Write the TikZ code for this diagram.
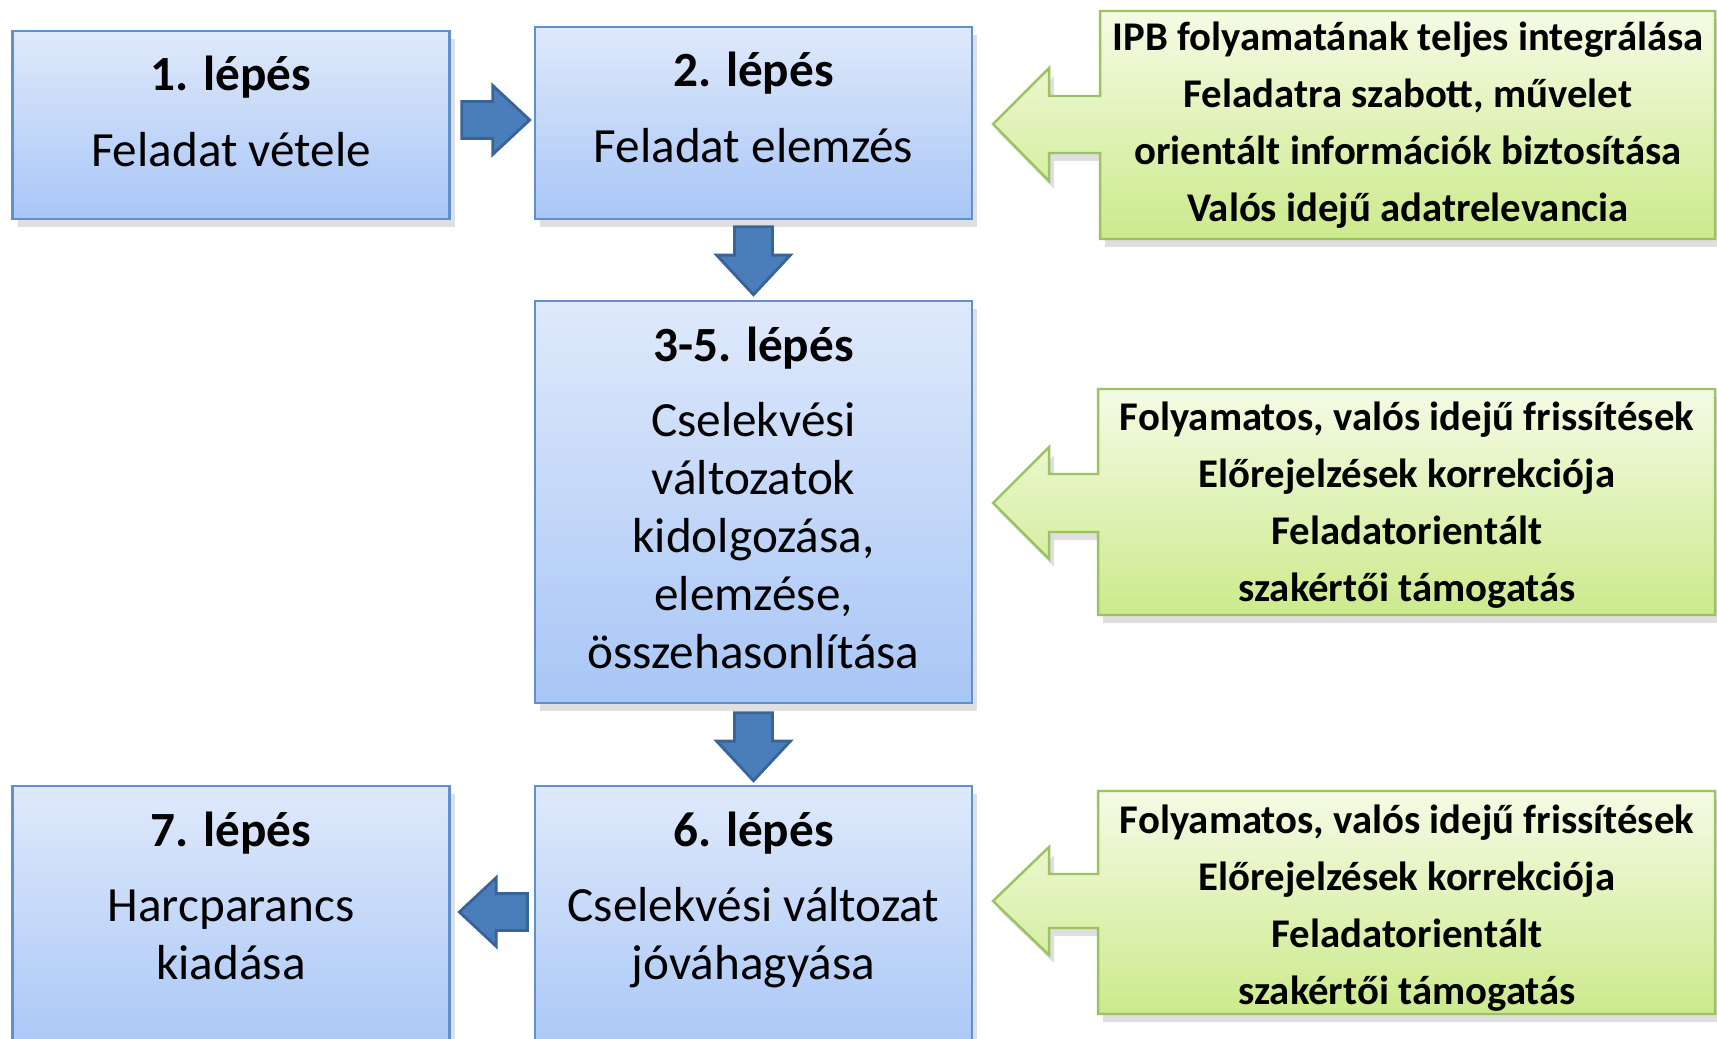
\documentclass[tikz,border=0pt]{standalone}
\usepackage{fontspec}
\setmainfont{Carlito}
\usepackage{tikz}
\usetikzlibrary{positioning,shapes.arrows,shadows,calc}
\definecolor{boxtop}{HTML}{DFE9FB}
\definecolor{boxbot}{HTML}{A8C6F6}
\definecolor{boxline}{HTML}{6090CE}
\definecolor{arrfill}{HTML}{4A7EBB}
\definecolor{arrline}{HTML}{386497}
\definecolor{grntop}{HTML}{F4FBE4}
\definecolor{grnbot}{HTML}{CCEA8C}
\definecolor{grnline}{HTML}{9CC262}

\begin{document}
\begin{tikzpicture}[x=0.1mm,y=-0.1mm,
  stepbox/.style={rectangle,draw=boxline,line width=0.7pt,top color=boxtop,bottom color=boxbot,
    minimum width=43.7mm,inner sep=0pt,drop shadow={opacity=0.25,shadow xshift=0.5mm,shadow yshift=-0.8mm}},
  steptext/.style={align=center,inner sep=0pt,font=\fontsize{14}{16.5}\selectfont},
  blockarrow/.style={single arrow,draw=arrline,fill=arrfill,line width=0.8pt,inner xsep=0pt,inner ysep=1.7mm,
    minimum height=6.8mm,single arrow head extend=1.6mm,single arrow tip angle=86},
  downarrow/.style={blockarrow,shape border rotate=270,inner xsep=1.75mm,inner ysep=0pt,single arrow head extend=1.8mm},
  callout/.style={draw=grnline,line width=0.7pt,top color=grntop,bottom color=grnbot,
    drop shadow={opacity=0.25,shadow xshift=0.5mm,shadow yshift=-0.8mm}},
  infotext/.style={align=center,inner sep=0pt,font=\fontsize{11.6}{16.2}\selectfont\bfseries}]
\fill[white] (0,0) rectangle (1717,1039);
\useasboundingbox (0,0) rectangle (1717,1039);

\node[stepbox,minimum height=18.8mm] (s1) at (231,125) {};
\node[stepbox,minimum height=19.2mm] (s2) at (753.5,123) {};
\node[stepbox,minimum height=40.2mm] (s3) at (753.5,502) {};
\node[stepbox,minimum height=27.4mm] (s6) at (753.5,923) {};
\node[stepbox,minimum height=27.4mm] (s7) at (231,923) {};

\node[steptext,below=2.6mm of s1.north] (t1) {\textbf{1. lépés}\\[5pt]Feladat vétele};
\node[steptext,below=2.6mm of s2.north] (t2) {\textbf{2. lépés}\\[5pt]Feladat elemzés};
\node[steptext,below=2.6mm of s3.north] (t3) {\textbf{3-5. lépés}\\[5pt]Cselekvési\\változatok\\kidolgozása,\\elemzése,\\összehasonlítása};
\node[steptext,below=2.6mm of s6.north] (t6) {\textbf{6. lépés}\\[5pt]Cselekvési változat\\jóváhagyása};
\node[steptext,below=2.6mm of s7.north] (t7) {\textbf{7. lépés}\\[5pt]Harcparancs\\kiadása};

\node[blockarrow,anchor=tip] (a12) at ($(s2.west)+(-2,-3)$) {};
\node[downarrow,anchor=tip] (a23) at ($(s3.north)+(0,-3)$) {};
\node[downarrow,anchor=tip] (a36) at ($(s6.north)+(0,-2)$) {};
\node[blockarrow,shape border rotate=180,anchor=tail] (a67) at ($(s6.west)+(-5,-11)$) {};

\draw[callout] (1100,11) -- (1715,11) -- (1715,239) -- (1100,239) -- (1100,153) -- (1049,153)
  -- (1049,181) -- (993,124) -- (1049,68) -- (1049,96) -- (1100,96) -- cycle;
\draw[callout] (1098,389) -- (1715,389) -- (1715,615) -- (1098,615) -- (1098,532) -- (1049,532)
  -- (1049,559) -- (993,503) -- (1049,447) -- (1049,474) -- (1098,474) -- cycle;
\draw[callout] (1098,791) -- (1715,791) -- (1715,1014) -- (1098,1014) -- (1098,928) -- (1049,928)
  -- (1049,955) -- (993,901) -- (1049,847) -- (1049,874) -- (1098,874) -- cycle;

\node[infotext] (i1) at (1408,125) {IPB folyamatának teljes integrálása\\Feladatra szabott, művelet\\orientált információk biztosítása\\Valós idejű adatrelevancia};
\node[infotext] (i2) at (1407,505) {Folyamatos, valós idejű frissítések\\Előrejelzések korrekciója\\Feladatorientált\\szakértői támogatás};
\node[infotext] (i3) at (1407,908) {Folyamatos, valós idejű frissítések\\Előrejelzések korrekciója\\Feladatorientált\\szakértői támogatás};
\end{tikzpicture}
\end{document}
